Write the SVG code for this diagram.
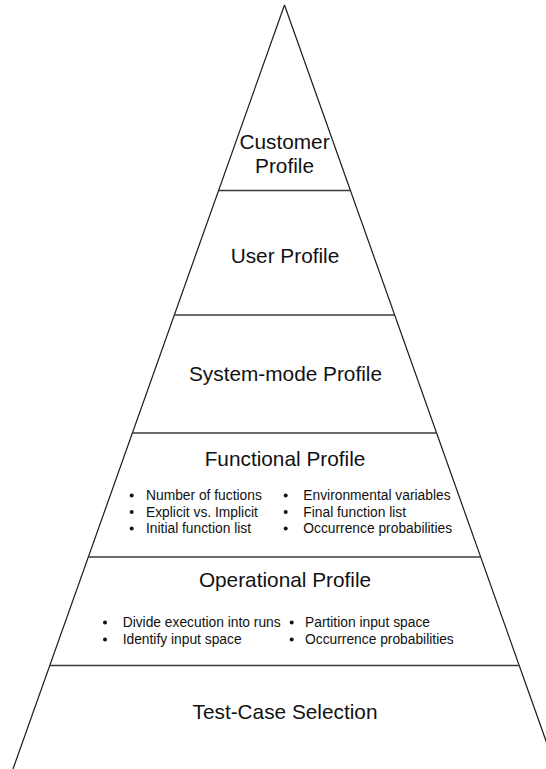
<svg xmlns="http://www.w3.org/2000/svg" width="546" height="769" viewBox="0 0 546 769">
  <style>
    .side { stroke: #1a1a1a; stroke-width: 1.2; fill: none; }
    .tier { stroke: #3a3a3a; stroke-width: 1.3; fill: none; }
    .title { font-family: "Liberation Sans", Arial, sans-serif; font-size: 20.8px; fill: #111; text-anchor: middle; }
    .item { font-family: "Liberation Sans", Arial, sans-serif; font-size: 13.8px; fill: #111; }
    .dot { fill: #111; }
  </style>
  <rect width="546" height="769" fill="#fff"/>

  <!-- pyramid outline and tier dividers -->
  <g id="connectors">
    <line class="side" x1="284.5" y1="5" x2="13" y2="769"/>
    <line class="side" x1="284.5" y1="5" x2="556" y2="769"/>
    <line class="tier" x1="218.8" y1="190.5" x2="350.2" y2="190.5"/>
    <line class="tier" x1="174.5" y1="315" x2="394.5" y2="315"/>
    <line class="tier" x1="132.5" y1="433" x2="436.5" y2="433"/>
    <line class="tier" x1="88.4" y1="557" x2="480.6" y2="557"/>
    <line class="tier" x1="50" y1="665.5" x2="519" y2="665.5"/>
  </g>

  <g id="customer-profile">
    <text class="title" x="284.5" y="149">Customer</text>
    <text class="title" x="284.5" y="173">Profile</text>
  </g>

  <g id="user-profile">
    <text class="title" x="285" y="263">User Profile</text>
  </g>

  <g id="system-mode-profile">
    <text class="title" x="285.5" y="381">System-mode Profile</text>
  </g>

  <g id="functional-profile">
    <text class="title" x="285" y="466">Functional Profile</text>
    <circle class="dot" cx="131.7" cy="495.5" r="2"/>
    <circle class="dot" cx="131.7" cy="512" r="2"/>
    <circle class="dot" cx="131.7" cy="528.5" r="2"/>
    <text class="item" x="146" y="500">Number of fuctions</text>
    <text class="item" x="146" y="516.5">Explicit vs. Implicit</text>
    <text class="item" x="146" y="533">Initial function list</text>
    <circle class="dot" cx="285.7" cy="495.5" r="2"/>
    <circle class="dot" cx="285.7" cy="512" r="2"/>
    <circle class="dot" cx="285.7" cy="528.5" r="2"/>
    <text class="item" x="303.3" y="500">Environmental variables</text>
    <text class="item" x="303.3" y="516.5">Final function list</text>
    <text class="item" x="303.3" y="533">Occurrence probabilities</text>
  </g>

  <g id="operational-profile">
    <text class="title" x="285" y="587">Operational Profile</text>
    <circle class="dot" cx="105" cy="622.5" r="2"/>
    <circle class="dot" cx="105" cy="639.5" r="2"/>
    <text class="item" x="122.7" y="627">Divide execution into runs</text>
    <text class="item" x="122.7" y="644">Identify input space</text>
    <circle class="dot" cx="291.7" cy="622.5" r="2"/>
    <circle class="dot" cx="291.7" cy="639.5" r="2"/>
    <text class="item" x="305" y="627">Partition input space</text>
    <text class="item" x="305" y="644">Occurrence probabilities</text>
  </g>

  <g id="test-case-selection">
    <text class="title" x="285" y="719">Test-Case Selection</text>
  </g>
</svg>
